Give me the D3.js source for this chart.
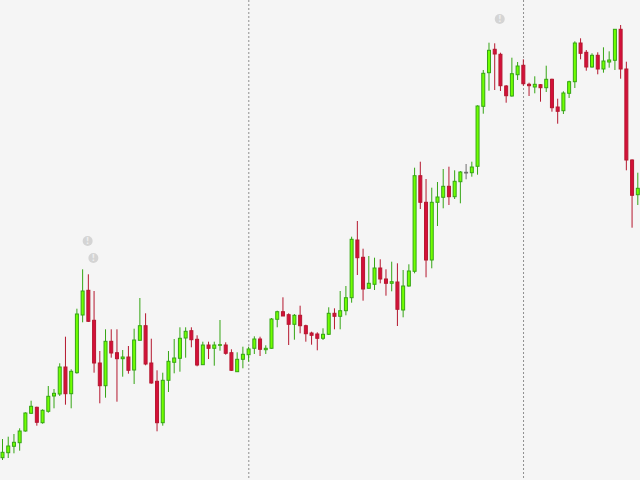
<!DOCTYPE html>
<html>
<head>
<meta charset="utf-8">
<script src="https://cdn.jsdelivr.net/npm/d3@7"></script>
<style>
html, body { margin: 0; padding: 0; background: #f5f5f5; }
svg { display: block; }
</style>
</head>
<body>
<svg id="chart"></svg>
<script>
const opens = [22.3,27.3,33.7,37.3,49,66.7,72.7,57.3,68.7,84,86,113,86.3,107.3,165,189.7,159.7,117,94.3,138.7,127.3,121.3,123,110,139.7,154.3,117,98.7,57.3,99.7,117.7,121.7,142,149.3,140.7,115.3,135,131.7,134.7,135,127.3,108.3,120.7,125.3,131.7,141,130.3,131.7,160.7,168.3,165.3,155.7,164.7,154.3,147,146,141.7,145.7,166.7,163.7,169.3,182.3,240,222.7,191.7,195.7,212,201,196.7,198,170,194,208.7,304.3,277.7,220,277.7,282.7,293.7,283.3,298.3,307,307.3,313.7,373.7,407.3,430.7,425.7,394,384,405.3,414.7,395.7,393,395.3,392.3,400.7,373,369.3,386.7,398.3,437,427.7,413,424.7,411,418,419.7,450.7,411,320,285.3]
const closes = [27.7,34,37.7,49,67,73.7,57.7,69.7,83.7,86.7,113,86.3,108.7,166,189,158.7,117,94.3,138.7,127,121.3,123,109.7,140,154.3,116,97,57.3,99.7,118.7,122,141.7,148.7,140.3,115,135,131.7,135,135.3,126.7,109.7,120.7,125.7,131,141,130.7,131.7,161,168.3,164,155.7,164.7,154.3,146.3,144.7,141.7,145.7,166.7,163.7,169.3,182.3,240.7,222.3,191,196.7,212,201,196.7,198.3,170.7,194,209,304.3,277.7,220,277.7,283,293.7,283.3,298.7,308,307.7,313,374,406.7,429.7,426,394.3,384.3,406.3,414,396.3,394.3,395.7,392.3,400.7,372.3,368.7,387,398.3,437,426.7,413,424.7,411,419,420,450.7,411,320,284.7,291.7]
const highs = [41,43.3,46,51.7,67.7,79.3,73.3,70.7,94,91,116.7,143.3,110.7,171.3,210.7,205.7,189,129,150.7,150.7,150.7,130,134,151.3,182,166.7,141.3,109.7,107.3,129,141,152.7,152.7,152.7,144.7,138.3,138.3,138.3,160,137.7,130.7,127.7,133.3,133.3,143.7,143.3,134.7,162,169.3,182.7,166.7,166,174.3,155.3,148.3,147.7,151.7,172.7,171.7,189,194,243.3,259,231.3,224,222.3,220.7,210.7,218.3,216.7,210,215.7,312.3,318.3,301,292.3,298,311,313.3,309.7,309,316,318.3,374.7,410,437.3,436.7,427.3,395,422.3,418,420.7,397.3,403.7,396,414.3,401.3,381.3,388.7,399.3,438.7,441.7,430,426.7,427.7,432.7,428.7,451,455,418.3,320.7,307.3]
const lows = [20,22,26.7,29.3,48.3,66,54.3,56.3,67.3,71.7,84,75.3,71.7,106.3,157.7,158,107.3,76.7,82.3,122.3,78.3,103.3,106.3,96,139.7,114.7,96.3,48.7,54.3,88,106.7,108.3,122.3,132.7,113.7,115,121,114.3,129.3,125.3,109,108.3,111.7,118.3,126,124,126,131.3,152.7,164,135,140.3,146.7,138.3,135.3,129.7,140,145,150.7,150.7,164.7,177.3,205,179.3,191.7,190,196.7,184.3,188.7,154,162.7,193.3,206.7,271,202.7,211.7,254,271.7,275,281,276.7,300.7,303.3,305.3,366.3,389.3,390,389,377.3,383.3,400,394.3,384,386.7,378.3,388,368.3,356.3,366,382,392,420.7,409.3,412.3,405.7,407.3,412.3,410,401.3,309.7,252.3,275]

// candle index of the session separators and of the event flags
const separators = [43, 91]
const flagIndex = [15, 16, 87]
const flagValue = [239, 222, 461]

const width = 640, height = 480

const x = d3.scaleLinear().domain([0, opens.length - 1]).range([2.5, 637.8])
const y = d3.scaleLinear().domain([0, height]).range([height, 0])

const bodyWidth = 3

const upStroke = '#35a514', upFill = '#70ff00'
const downStroke = '#b5182f', downFill = '#d4103a'
const dojiStroke = '#6e6e6e'

const colour = (i, up, down) => closes[i] >= opens[i] ? up : down

const svg = d3.select('#chart')
    .attr('width', width)
    .attr('height', height)
    .style('font-family', 'DejaVu Sans')

svg.append('rect')
    .attr('width', width)
    .attr('height', height)
    .attr('fill', '#f5f5f5')

svg.append('g')
    .selectAll('line')
    .data(separators)
    .enter().append('line')
    .attr('x1', d => x(d) + 0.2)
    .attr('x2', d => x(d) + 0.2)
    .attr('y1', 0)
    .attr('y2', height)
    .attr('stroke', '#8f8f8f')
    .attr('stroke-width', 1)
    .attr('stroke-dasharray', '2,2')

const candles = svg.append('g')
    .selectAll('g')
    .data(d3.range(opens.length))
    .enter().append('g')

candles.append('line')
    .attr('x1', i => x(i))
    .attr('x2', i => x(i))
    .attr('y1', i => y(highs[i]))
    .attr('y2', i => y(lows[i]))
    .attr('stroke', i => i === 81 ? dojiStroke : colour(i, upStroke, downStroke))
    .attr('stroke-width', 1)

candles.append('rect')
    .attr('x', i => x(i) - bodyWidth / 2)
    .attr('width', bodyWidth)
    .attr('y', i => y(Math.max(opens[i], closes[i])))
    .attr('height', i => Math.abs(opens[i] - closes[i]))
    .attr('fill', i => colour(i, upFill, downFill))
    .attr('stroke', i => i === 81 ? dojiStroke : colour(i, upStroke, downStroke))
    .attr('stroke-width', 1)

const flags = svg.append('g')
    .selectAll('g')
    .data(flagIndex)
    .enter().append('g')
    .attr('transform', (d, i) => `translate(${x(d) - 0.7},${y(flagValue[i])})`)

flags.append('circle')
    .attr('r', 5)
    .attr('fill', '#d4d4d4')

flags.append('text')
    .attr('text-anchor', 'middle')
    .attr('y', 3)
    .attr('font-size', 8)
    .attr('font-weight', 'bold')
    .attr('fill', '#eeeeee')
    .text('!')
</script>
</body>
</html>
